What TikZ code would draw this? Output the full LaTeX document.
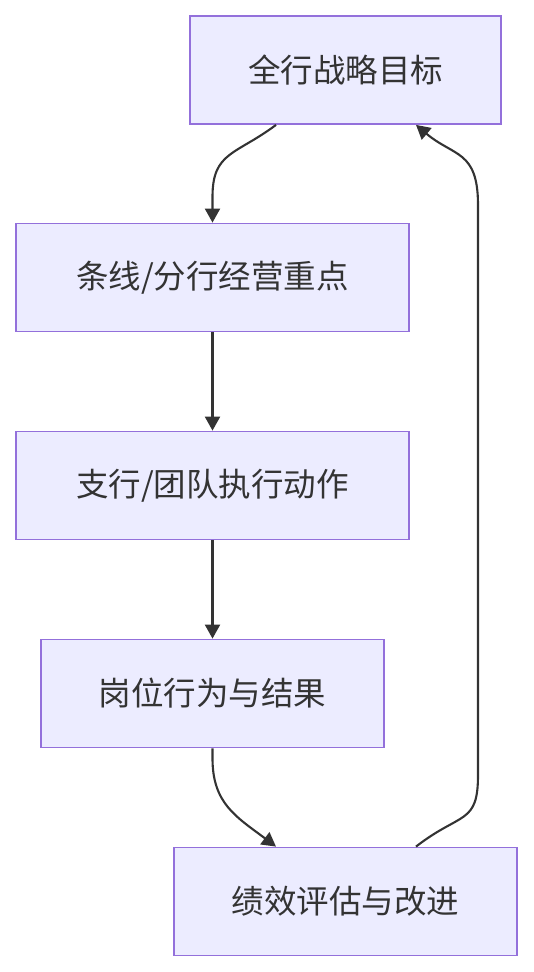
\documentclass[tikz,border=0pt]{standalone}
\usepackage{fontspec}
\setmainfont{Noto Sans CJK SC}
\usetikzlibrary{arrows.meta}
\definecolor{boxfill}{HTML}{ECECFF}
\definecolor{boxline}{HTML}{9370DB}
\definecolor{ink}{HTML}{333333}

\begin{document}
\begin{tikzpicture}[x=1pt,y=-1pt,>={Triangle[length=14pt,width=15pt]},
  stage/.style={draw=boxline,line width=1.8pt,fill=boxfill,minimum height=108pt,inner sep=0pt,text=ink,font=\fontsize{32.5}{38}\selectfont},
  flow/.style={->,draw=ink,line width=2.1pt}]
\useasboundingbox (0,0) rectangle (533,972);
\node[stage,minimum width=311pt] (st_goal) at (345.5,70) {全行战略目标};
\node[stage,minimum width=393pt] (st_line) at (212.5,277.5) {条线/分行经营重点};
\node[stage,minimum width=393pt] (st_branch) at (212.5,485.5) {支行/团队执行动作};
\node[stage,minimum width=343pt] (st_post) at (212.5,693.5) {岗位行为与结果};
\node[stage,minimum width=343pt] (st_eval) at (345.5,901.5) {绩效评估与改进};
\coordinate (rbot) at (478,775);
\coordinate (rtop) at (478,205);
% chain down the left side
\draw[flow] ([xshift=-69.5pt]st_goal.south) .. controls +(-40,30) and +(0,-45) .. ([yshift=26pt]st_line.north) -- (st_line.north);
\draw[flow] (st_line) -- (st_branch);
\draw[flow] (st_branch) -- (st_post);
\draw[flow] (st_post.south) -- ([yshift=-10pt]st_post.south) .. controls +(0,45) and +(-40,-30) .. ([xshift=-69.5pt]st_eval.north);
% feedback loop
\draw[flow] ([xshift=70.5pt]st_eval.north) .. controls +(45,-35) and +(0,50) .. (rbot) -- (rtop) .. controls +(0,-55) and +(38,32) .. ([xshift=70.5pt]st_goal.south);
\end{tikzpicture}
\end{document}
